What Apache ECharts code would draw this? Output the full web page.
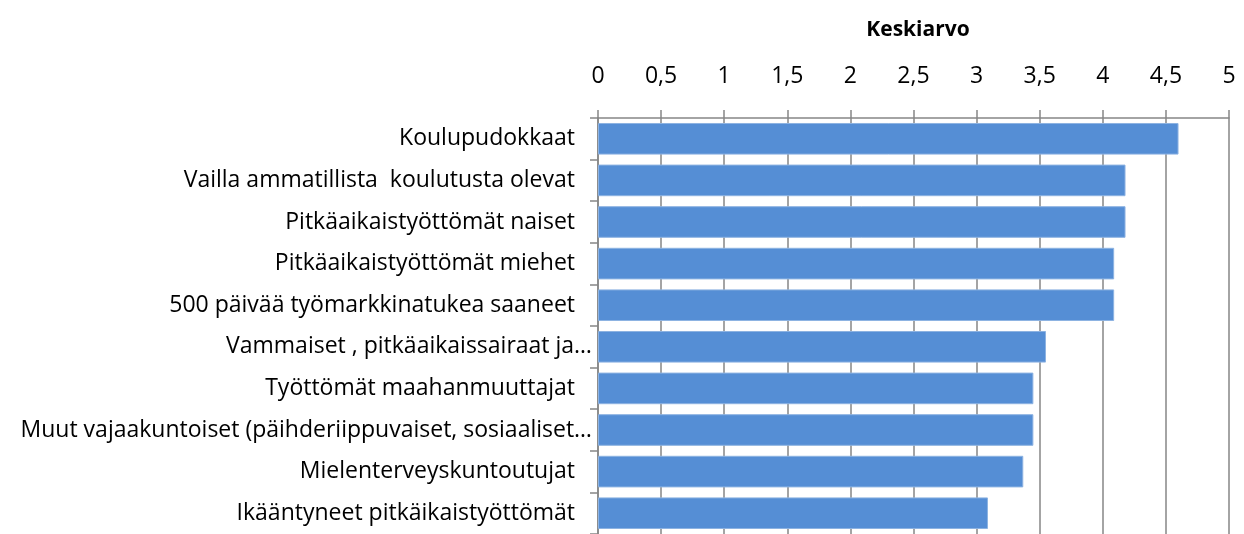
<!DOCTYPE html>
<html>
<head>
<meta charset="utf-8">
<script src="https://cdn.jsdelivr.net/npm/echarts@6/dist/echarts.min.js"></script>
<style>
  html, body { margin: 0; padding: 0; background: #fff; }
  #chart { width: 1244px; height: 534px; }
</style>
</head>
<body>
<div id="chart"></div>
<script>
// Target groups, top to bottom
const categories = [
  'Koulupudokkaat',
  'Vailla ammatillista  koulutusta olevat',
  'Pitkäaikaistyöttömät naiset',
  'Pitkäaikaistyöttömät miehet',
  '500 päivää työmarkkinatukea saaneet',
  'Vammaiset , pitkäaikaissairaat ja…',
  'Työttömät maahanmuuttajat',
  'Muut vajaakuntoiset (päihderiippuvaiset, sosiaaliset…',
  'Mielenterveyskuntoutujat',
  'Ikääntyneet pitkäikaistyöttömät'
];
// Mean score per group
const averages = [4.60, 4.18, 4.18, 4.09, 4.09, 3.55, 3.45, 3.45, 3.37, 3.09];
const axisTitle = 'Keskiarvo';

const FONT = '"Open Sans", sans-serif';
const chart = echarts.init(document.getElementById('chart'), null, { renderer: 'canvas' });

chart.setOption({
  animation: false,
  title: {
    text: axisTitle,
    left: 913,
    top: 15,
    textAlign: 'center',
    textStyle: { fontFamily: FONT, fontSize: 21, fontWeight: 'bold', color: '#000' }
  },
  grid: { left: 598, top: 118, width: 631, height: 420, containLabel: false },
  xAxis: {
    type: 'value',
    position: 'top',
    min: 0,
    max: 5,
    interval: 0.5,
    axisLine: { show: true, lineStyle: { color: '#868686', width: 1.5 } },
    axisTick: { show: true, inside: false, length: 8, lineStyle: { color: '#868686', width: 1.5 } },
    splitLine: { show: true, lineStyle: { color: '#868686', width: 1.5 } },
    axisLabel: {
      margin: 30,
      fontFamily: FONT,
      fontSize: 23,
      color: '#000',
      formatter: v => String(v).replace('.', ',')
    }
  },
  yAxis: {
    type: 'category',
    data: categories,
    inverse: true,
    axisLine: { show: true, lineStyle: { color: '#868686', width: 1.5 } },
    axisTick: { show: true, length: 8, lineStyle: { color: '#868686', width: 1.5 } },
    axisLabel: {
      margin: 6,
      fontFamily: FONT,
      fontSize: 23,
      color: '#000',
      // full labels sit a little further from the axis than the shortened ones
      formatter: v => v.endsWith('…') ? v : '{pad|' + v + '}',
      rich: { pad: { fontFamily: FONT, fontSize: 23, color: '#000', padding: [0, 17, 0, 0] } }
    }
  },
  series: [{
    type: 'bar',
    data: averages,
    barCategoryGap: '24%',
    itemStyle: { color: '#558ED5', borderColor: '#8DB3E2', borderWidth: 1 }
  }]
});
</script>
</body>
</html>
